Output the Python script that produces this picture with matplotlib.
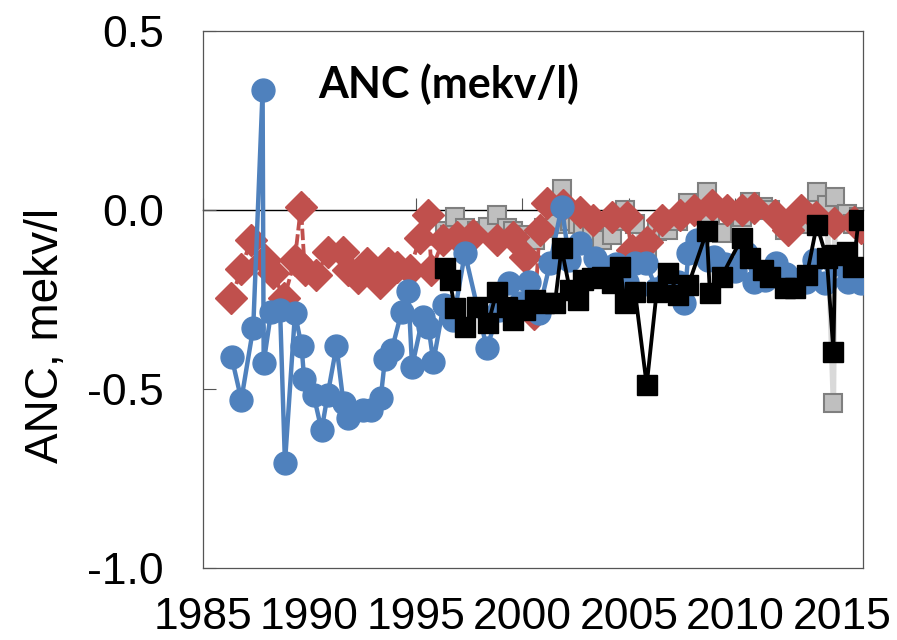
import matplotlib
matplotlib.use("Agg")
import matplotlib.pyplot as plt

# blue series (circles)
blue_years = [1986.34, 1986.8, 1987.36, 1987.8, 1987.85, 1988.2, 1988.62, 1988.85, 1989.32, 1989.63,
              1989.75, 1990.2, 1990.57, 1990.85, 1991.27, 1991.6, 1991.8, 1992.5, 1992.9, 1993.35,
              1993.55, 1993.86, 1994.33, 1994.64, 1994.82, 1995.32, 1995.59, 1995.82, 1996.3, 1996.76,
              1997.3, 1998.33, 1998.9, 1999.35, 1999.9, 2000.3, 2000.76, 2001.3, 2001.85, 2002.2,
              2002.7, 2003.4, 2003.9, 2004.4, 2004.9, 2005.3, 2005.8, 2006.3, 2006.8, 2007.3,
              2007.6, 2007.8, 2008.2, 2008.7, 2009.0, 2009.5, 2010.0, 2010.5, 2010.9, 2011.4,
              2011.9, 2012.4, 2012.9, 2013.3, 2013.7, 2014.2, 2014.7, 2015.3, 2015.9]
blue_vals = [-0.41, -0.53, -0.329, 0.335, -0.427, -0.284, -0.278, -0.707, -0.289, -0.38,
             -0.472, -0.518, -0.615, -0.518, -0.38, -0.54, -0.581, -0.559, -0.559, -0.524,
             -0.415, -0.392, -0.284, -0.226, -0.438, -0.3, -0.326, -0.424, -0.265, -0.307,
             -0.121, -0.386, -0.28, -0.205, -0.26, -0.2, -0.288, -0.149, 0.009, -0.14,
             -0.093, -0.135, -0.16, -0.15, -0.2, -0.149, -0.149, -0.22, -0.2, -0.2,
             -0.26, -0.12, -0.084, -0.14, -0.13, -0.15, -0.17, -0.12, -0.2, -0.196,
             -0.148, -0.18, -0.196, -0.2, -0.14, -0.204, -0.15, -0.2, -0.204]

# red series (diamonds, dashed)
red_years = [1986.33, 1986.8, 1987.24, 1987.9, 1988.29, 1988.81, 1989.31, 1989.6, 1989.78, 1990.33,
             1990.88, 1991.58, 1991.82, 1992.29, 1992.68, 1993.3, 1993.7, 1994.09, 1994.71, 1995.18,
             1995.58, 1995.73, 1996.28, 1996.91, 1997.69, 1998.79, 1999.57, 2000.12, 2000.57, 2000.81,
             2001.14, 2001.92, 2002.69, 2003.33, 2004.19, 2004.9, 2005.13, 2005.84, 2006.54, 2007.39,
             2008.05, 2008.9, 2009.6, 2010.3, 2010.9, 2011.86, 2012.5, 2013.1, 2013.8, 2014.65,
             2015.59, 2015.92]
red_vals = [-0.247, -0.165, -0.084, -0.14, -0.177, -0.247, -0.14, 0.009, -0.168, -0.182,
            -0.116, -0.116, -0.168, -0.19, -0.149, -0.205, -0.149, -0.158, -0.168, -0.079,
            -0.014, -0.168, -0.084, -0.075, -0.07, -0.084, -0.075, -0.13, -0.29, -0.056,
            0.02, 0.014, -0.005, -0.028, -0.019, -0.019, -0.112, -0.09, -0.028, -0.014,
            0.0, 0.014, 0.0, 0.0, 0.005, -0.014, -0.056, 0.0, -0.02, -0.037,
            -0.033, -0.05]

# black and grey series (squares), same sampling dates
sq_years = [1996.36, 1996.59, 1996.83, 1997.3, 1997.85, 1998.4, 1998.79, 1999.26, 1999.57, 2000.12,
            2000.59, 2001.04, 2001.53, 2001.84, 2002.23, 2002.63, 2002.86, 2003.25, 2003.74, 2004.19,
            2004.58, 2004.82, 2005.29, 2005.84, 2006.31, 2006.86, 2007.33, 2007.8, 2008.66, 2008.81,
            2009.36, 2010.3, 2010.69, 2011.32, 2011.63, 2012.33, 2012.8, 2013.36, 2013.83, 2014.3,
            2014.61, 2014.69, 2015.24, 2015.55, 2015.79]
black_vals = [-0.163, -0.196, -0.275, -0.326, -0.27, -0.317, -0.228, -0.27, -0.307, -0.279,
              -0.251, -0.26, -0.261, -0.107, -0.223, -0.251, -0.196, -0.191, -0.186, -0.205,
              -0.158, -0.261, -0.228, -0.489, -0.228, -0.177, -0.237, -0.209, -0.06, -0.233,
              -0.186, -0.079, -0.135, -0.168, -0.186, -0.219, -0.219, -0.182, -0.042, -0.135,
              -0.396, -0.126, -0.116, -0.158, -0.028]
grey_vals = [-0.06, -0.07, -0.019, -0.05, -0.06, -0.047, -0.014, -0.05, -0.06, -0.07,
             -0.084, -0.05, -0.04, 0.06, -0.03, -0.04, -0.05, -0.06, -0.084, -0.07,
             -0.03, 0.0, -0.04, -0.14, -0.06, -0.056, -0.03, 0.019, 0.051, -0.02,
             -0.065, -0.02, 0.023, 0.009, 0.0, -0.056, -0.03, -0.04, 0.051, 0.014,
             -0.54, 0.037, -0.01, -0.04, -0.02]

xticks = [1985, 1990, 1995, 2000, 2005, 2010, 2015]
yticks = [-1.0, -0.5, 0.0, 0.5]

plt.rcParams['font.family'] = ['Liberation Sans', 'DejaVu Sans']

fig = plt.figure(figsize=(8.97, 6.4), dpi=100)
ax = fig.add_axes([0.2263, 0.1125, 0.7358, 0.8391])

ax.plot(sq_years, grey_vals, color='#D9D9D9', lw=4, marker='s', ms=13.5,
        mfc='#BFBFBF', mec='#7F7F7F', mew=1.5, zorder=2)
ax.plot(red_years, red_vals, color='#C0504D', lw=2.75, ls=(0, (3, 1)), marker='D', ms=16,
        mfc='#C0504D', mec='#C0504D', zorder=3)
ax.plot(blue_years, blue_vals, color='#4F81BD', lw=3.2, marker='o', ms=16.5,
        mfc='#4F81BD', mec='#4F81BD', zorder=4)
ax.plot(sq_years, black_vals, color='black', lw=2.75, marker='s', ms=14.5,
        mfc='black', mec='black', zorder=5)

ax.set_xlim(1985, 2016)
ax.set_ylim(-1.0, 0.5)
ax.set_xticks(xticks)
ax.set_xticklabels([str(t) for t in xticks])
ax.set_yticks(yticks)
ax.set_yticklabels(['%.1f' % t for t in yticks])
ax.tick_params(axis='x', length=0, pad=21, labelsize=32)
ax.tick_params(axis='y', direction='in', length=9, width=0.8, pad=28, labelsize=32,
               color='#555555')
for sp in ax.spines.values():
    sp.set_color('#555555')
    sp.set_linewidth(0.9)

# horizontal axis crossing at zero with upward tick marks
ylo, yhi = ax.get_ylim()
zero_ax = ax.secondary_xaxis((0 - ylo) / (yhi - ylo))
zero_ax.set_xticks(xticks)
zero_ax.tick_params(axis='x', direction='out', length=9, width=0.8, labeltop=False,
                    labelbottom=False, color='#555555')
zero_ax.spines['top'].set_color('black')
zero_ax.spines['top'].set_linewidth(1.0)
zero_ax.set_zorder(1)

ax.set_ylabel('ANC, mekv/l', fontsize=33)
ax.yaxis.set_label_coords(-0.205, 0.433)

ax.text(0.175, 0.90, 'ANC (mekv/l)', transform=ax.transAxes, fontsize=31,
        fontweight='bold', family=['Lato', 'DejaVu Sans'], va='center', ha='left')

fig.savefig('out.png', dpi=100)
